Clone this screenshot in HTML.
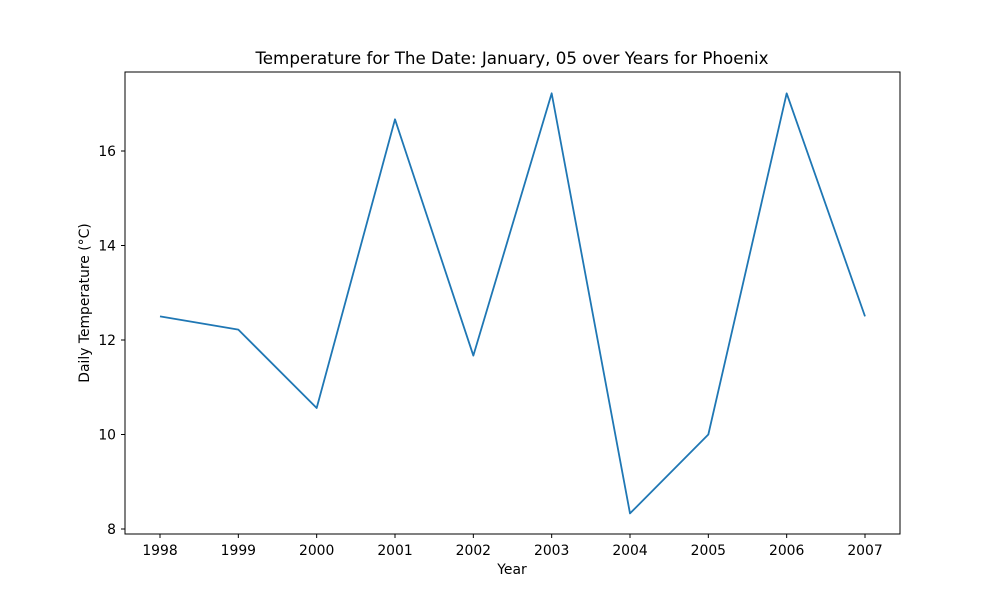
<!DOCTYPE html>
<html><head><meta charset="utf-8"><style>
body{margin:0;background:#fff;font-family:"Liberation Sans","DejaVu Sans",sans-serif}
text{font-family:"DejaVu Sans","Liberation Sans",sans-serif}
</style></head><body>
<svg id="chart" width="1000" height="600" xmlns="http://www.w3.org/2000/svg">
<rect width="1000" height="600" fill="#fff"/>
<text x="512" y="64" text-anchor="middle" font-size="16.7">Temperature for The Date: January, 05 over Years for Phoenix</text>
<g id="axes"></g>
<rect x="125" y="72" width="775" height="462" fill="none" stroke="#000" stroke-width="1"/>
<text x="512" y="574" text-anchor="middle" font-size="13.9">Year</text>
<text transform="translate(89,303) rotate(-90)" text-anchor="middle" font-size="13.9">Daily Temperature (°C)</text>
</svg>
<script>
const years=[1998,1999,2000,2001,2002,2003,2004,2005,2006,2007];
const temps=[12.5,12.22,10.56,16.67,11.67,17.22,8.33,10.0,17.22,12.5];
const yTicks=[8,10,12,14,16];
const NS="http://www.w3.org/2000/svg";
const g=document.getElementById('axes');
const xs=y=>160+(y-1998)*(705/9);
const ys=v=>529-(v-8)*47.25;
function mk(t,a){const e=document.createElementNS(NS,t);for(const k in a)e.setAttribute(k,a[k]);g.appendChild(e);return e;}
years.forEach(y=>{
 const t=mk('line',{x1:xs(y),x2:xs(y),y1:534,y2:538,stroke:'#000'});
 
 
 const l=mk('text',{x:xs(y),y:555,'text-anchor':'middle','font-size':13.9});l.textContent=y;
 
 
});
yTicks.forEach(v=>{
 const t=mk('line',{x1:121,x2:125,y1:ys(v),y2:ys(v),stroke:'#000'});
 
 
 const l=mk('text',{x:116,y:ys(v)+5,'text-anchor':'end','font-size':13.9});l.textContent=v;
 
 
});
const p=mk('polyline',{points:years.map((y,i)=>xs(y)+','+ys(temps[i])).join(' '),fill:'none',stroke:'#1f77b4','stroke-width':1.8,'stroke-linejoin':'round'});


</script>
</body></html>
